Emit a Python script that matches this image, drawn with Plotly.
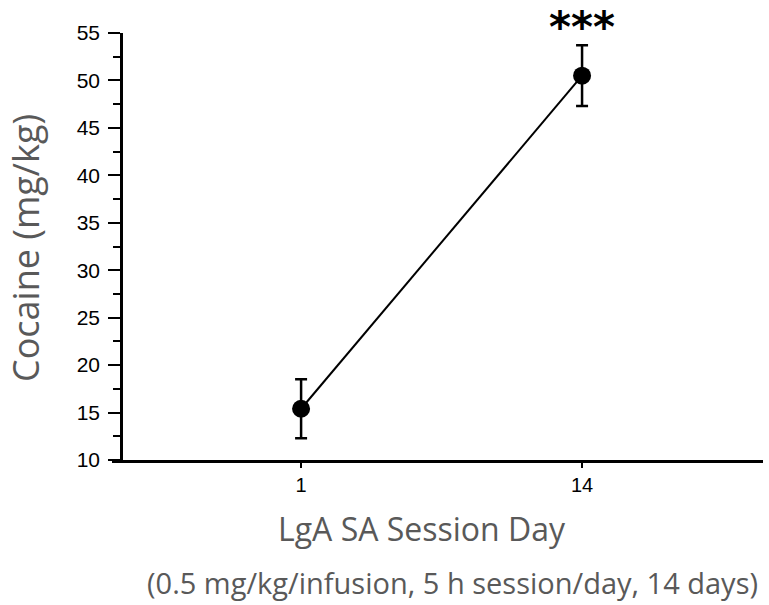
import plotly.graph_objects as go

days = ["1", "14"]
x_pos = [1, 2]
cocaine = [15.4, 50.5]
sem = [3.1, 3.2]
y_ticks = [10, 15, 20, 25, 30, 35, 40, 45, 50, 55]

fig = go.Figure()
fig.add_trace(go.Scatter(
    x=x_pos, y=cocaine, mode="lines+markers",
    line=dict(color="black", width=2),
    marker=dict(color="black", size=18),
    error_y=dict(type="data", array=sem, visible=True, color="black", thickness=2.5, width=6),
    showlegend=False,
))

gray = "#595959"
fig.update_layout(
    width=769, height=605,
    margin=dict(l=112, r=6, t=33, b=145),
    plot_bgcolor="white", paper_bgcolor="white",
    xaxis=dict(range=[0.327, 2.644], tickvals=x_pos, ticktext=days,
               showline=True, linecolor="black", linewidth=2.5,
               ticks="outside", ticklen=5, tickwidth=2, tickcolor="black",
               tickfont=dict(family="Liberation Sans, Arial", size=20, color="black"),
               showgrid=False, zeroline=False),
    yaxis=dict(range=[10, 55], tickvals=y_ticks, anchor="free", position=0.0138,
               showline=True, linecolor="black", linewidth=2.5,
               ticks="outside", ticklen=12, tickwidth=2, tickcolor="black",
               ticklabelstandoff=4,
               minor=dict(dtick=2.5, tick0=10, ticks="outside", ticklen=7, tickwidth=2, tickcolor="black"),
               tickfont=dict(family="Liberation Sans, Arial", size=21, color="black"),
               showgrid=False, zeroline=False),
)

fig.add_annotation(text="Cocaine (mg/kg)", xref="paper", yref="paper",
                   x=(25 - 112) / 651, y=(460 - 248) / 427, xanchor="center", yanchor="middle", textangle=-90,
                   showarrow=False, font=dict(family="Open Sans", size=36, color=gray))
fig.add_annotation(text="LgA SA Session Day", xref="paper", yref="paper",
                   x=(422 - 112) / 651, y=-(528 - 460) / 427, xanchor="center", yanchor="middle",
                   showarrow=False, font=dict(family="Open Sans", size=32, color=gray))
fig.add_annotation(text="(0.5 mg/kg/infusion, 5 h session/day, 14 days)", xref="paper", yref="paper",
                   x=(452 - 112) / 651, y=-(582 - 460) / 427, xanchor="center", yanchor="middle",
                   showarrow=False, font=dict(family="Open Sans", size=29, color=gray))
fig.add_annotation(text="<b>***</b>", x=2, xref="x", y=1 + 32 / 427, yref="paper",
                   xanchor="center", yanchor="top", showarrow=False,
                   font=dict(family="DejaVu Sans", size=42, color="black"))

fig.write_html("out.html", config={"displayModeBar": False},
               post_script="document.body.style.margin='0';")
